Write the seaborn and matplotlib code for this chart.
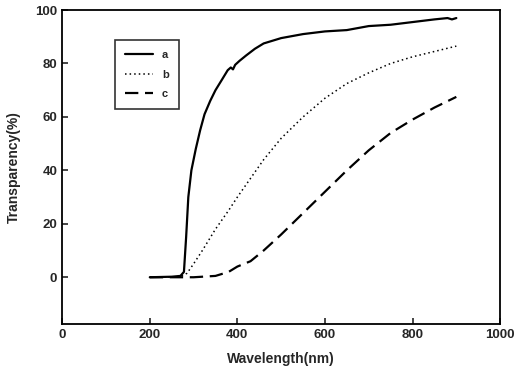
import matplotlib
matplotlib.use('Agg')
import matplotlib.pyplot as plt
import seaborn as sns

wl_a = [200, 250, 270, 278, 283, 288, 295, 305, 315, 325, 338, 350, 365, 378, 385,
        390, 395, 405, 420, 440, 460, 480, 500, 550, 600, 650, 700, 750, 800, 850,
        880, 890, 900]
tr_a = [0, 0.2, 0.5, 2, 15, 30, 40, 48, 55, 61, 66, 70, 74, 77.5, 78.5,
        77.8, 79.5, 81, 83, 85.5, 87.5, 88.5, 89.5, 91, 92, 92.5, 94, 94.5, 95.5, 96.5,
        97, 96.5, 97]

wl_b = [200, 270, 285, 300, 320, 350, 380, 400, 430, 460, 500, 550, 600, 650, 700,
        750, 800, 850, 900]
tr_b = [0, 0.2, 1.5, 5, 10, 18, 25, 30, 37, 44, 52, 60, 67, 72.5, 76.5,
        80, 82.5, 84.5, 86.5]

wl_c = [200, 300, 350, 380, 400, 430, 460, 500, 550, 600, 650, 700, 750, 800, 850, 900]
tr_c = [0, 0, 0.5, 2, 4, 6, 10, 16, 24, 32, 40, 47.5, 54, 59, 63.5, 67.5]

sns.set_style('white')
plt.rcParams['font.family'] = ['Liberation Sans', 'DejaVu Sans']
plt.rcParams['font.weight'] = 'bold'

fig = plt.figure(figsize=(5.14, 3.72), dpi=100)
ax = fig.add_axes([0.121, 0.129, 0.852, 0.844])

sns.lineplot(x=wl_a, y=tr_a, ax=ax, color='black', lw=1.6, label='a')
sns.lineplot(x=wl_b, y=tr_b, ax=ax, color='black', lw=1.1, linestyle=(0, (1, 2)), label='b')
sns.lineplot(x=wl_c, y=tr_c, ax=ax, color='black', lw=1.6, linestyle=(0, (6, 3)), label='c')

ax.set_xlim(0, 1000)
ax.set_ylim(-17.5, 100)
ax.set_xticks([0, 200, 400, 600, 800, 1000])
ax.set_yticks([0, 20, 40, 60, 80, 100])
ax.tick_params(direction='in', length=4, width=1.2, labelsize=9.5, bottom=True, left=True)
for lab in ax.get_xticklabels() + ax.get_yticklabels():
    lab.set_fontweight('bold')
for s in ax.spines.values():
    s.set_color('black')
    s.set_linewidth(1.3)

ax.set_xlabel('Wavelength(nm)', fontsize=10, fontweight='bold', labelpad=8)
ax.set_ylabel('Transparency(%)', fontsize=10, fontweight='bold', labelpad=10)

leg = ax.legend(loc='upper left', bbox_to_anchor=(0.121, 0.904), borderaxespad=0,
                frameon=True, fancybox=False, edgecolor='black', fontsize=8,
                handlelength=2.5, borderpad=0.9, labelspacing=0.85)
leg.get_frame().set_linewidth(1.2)
for t in leg.get_texts():
    t.set_fontweight('bold')

fig.savefig('out.png', dpi=100)
